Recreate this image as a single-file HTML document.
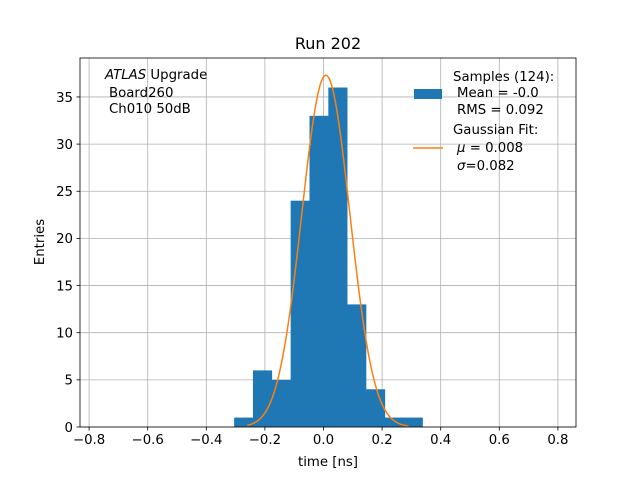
<!DOCTYPE html>
<html><head><meta charset="utf-8"><style>
body{margin:0;background:#fff;font-family:"DejaVu Sans","Liberation Sans",sans-serif}
svg text{font-family:"DejaVu Sans","Liberation Sans",sans-serif}
</style></head><body>
<svg id="c" width="640" height="480" xmlns="http://www.w3.org/2000/svg"></svg>
<script>
const binEdges=[-0.305,-0.2407,-0.1764,-0.1121,-0.0478,0.0165,0.0808,0.1451,0.2094,0.2737,0.338];
const counts=[1,6,5,24,33,36,13,4,1,1];
const xTicks=[-0.8,-0.6,-0.4,-0.2,0.0,0.2,0.4,0.6,0.8];
const yTicks=[0,5,10,15,20,25,30,35];
const fitAmp=[37.3];
const fitMu=[0.008];
const fitSigma=[0.082];
const fitRange=[-0.26,0.29];
const NS="http://www.w3.org/2000/svg";
const svg=document.getElementById('c');
const L=80,R=576,T=58,B=427;
function X(v){return 323.5+v*293;}
function Y(v){return B-v*9.43;}
function el(t,a,p){const e=document.createElementNS(NS,t);for(const k in a)e.setAttribute(k,a[k]);(p||svg).appendChild(e);return e;}
xTicks.forEach(t=>{const g=el('line',{x1:X(t),x2:X(t),y1:T,y2:B,stroke:'#b0b0b0','stroke-width':0.8});

});
yTicks.forEach(t=>{const g=el('line',{x1:L,x2:R,y1:Y(t),y2:Y(t),stroke:'#b0b0b0','stroke-width':0.8});

});
counts.forEach((c,i)=>{const x0=X(binEdges[i]),x1=X(binEdges[i+1]);
const r=el('rect',{x:x0,y:Y(c),width:x1-x0+0.3,height:B-Y(c),fill:'#1f77b4'});

});
let d='';for(let i=0;i<=200;i++){const v=fitRange[0]+(fitRange[1]-fitRange[0])*i/200;
const yv=fitAmp[0]*Math.exp(-0.5*Math.pow((v-fitMu[0])/fitSigma[0],2));d+=(i?'L':'M')+X(v).toFixed(2)+','+Y(yv).toFixed(2);}
const p=el('path',{d:d,fill:'none',stroke:'#ff7f0e','stroke-width':1.5});


const f=el('rect',{x:L,y:T,width:R-L,height:B-T,fill:'none',stroke:'#000','stroke-width':0.8});


xTicks.forEach(t=>{el('line',{x1:X(t),x2:X(t),y1:B,y2:B+3.5,stroke:'#000','stroke-width':0.8});
const tx=el('text',{x:X(t),y:B+17,'font-size':'13.3','text-anchor':'middle'});tx.textContent=(t<0?'\u2212':'')+Math.abs(t).toFixed(1);

});
yTicks.forEach(t=>{el('line',{x1:L,x2:L-3.5,y1:Y(t),y2:Y(t),stroke:'#000','stroke-width':0.8});
const tx=el('text',{x:L-7,y:Y(t)+4.8,'font-size':'13.3','text-anchor':'end'});tx.textContent=t;

});
</script>
<svg width="640" height="480" style="position:absolute;left:0;top:0" xmlns="http://www.w3.org/2000/svg" font-family="DejaVu Sans, Liberation Sans, sans-serif">
<text x="328" y="49" font-size="16" text-anchor="middle">Run 202</text>
<text x="328" y="466" font-size="13.3" text-anchor="middle">time [ns]</text>
<text transform="translate(44,242) rotate(-90)" font-size="13.3" text-anchor="middle">Entries</text>
<g font-size="13.3">
<text x="105" y="79"><tspan font-style="italic">ATLAS</tspan> Upgrade</text>
<text x="109" y="97">Board260</text>
<text x="109" y="113">Ch010 50dB</text>
</g>
<g font-size="13.3">
<rect x="414" y="89" width="28" height="10" fill="#1f77b4"/>
<text x="453" y="81">Samples (124):</text>
<text x="457" y="97">Mean = -0.0</text>
<text x="457" y="114">RMS = 0.092</text>
<line x1="413" x2="443" y1="148" y2="148" stroke="#ff7f0e" stroke-width="1.5"/>
<text x="453" y="134">Gaussian Fit:</text>
<text x="457" y="152"><tspan font-style="italic">μ</tspan> = 0.008</text>
<text x="457" y="170"><tspan font-style="italic">σ</tspan>=0.082</text>
</g>
</svg>
</body></html>
